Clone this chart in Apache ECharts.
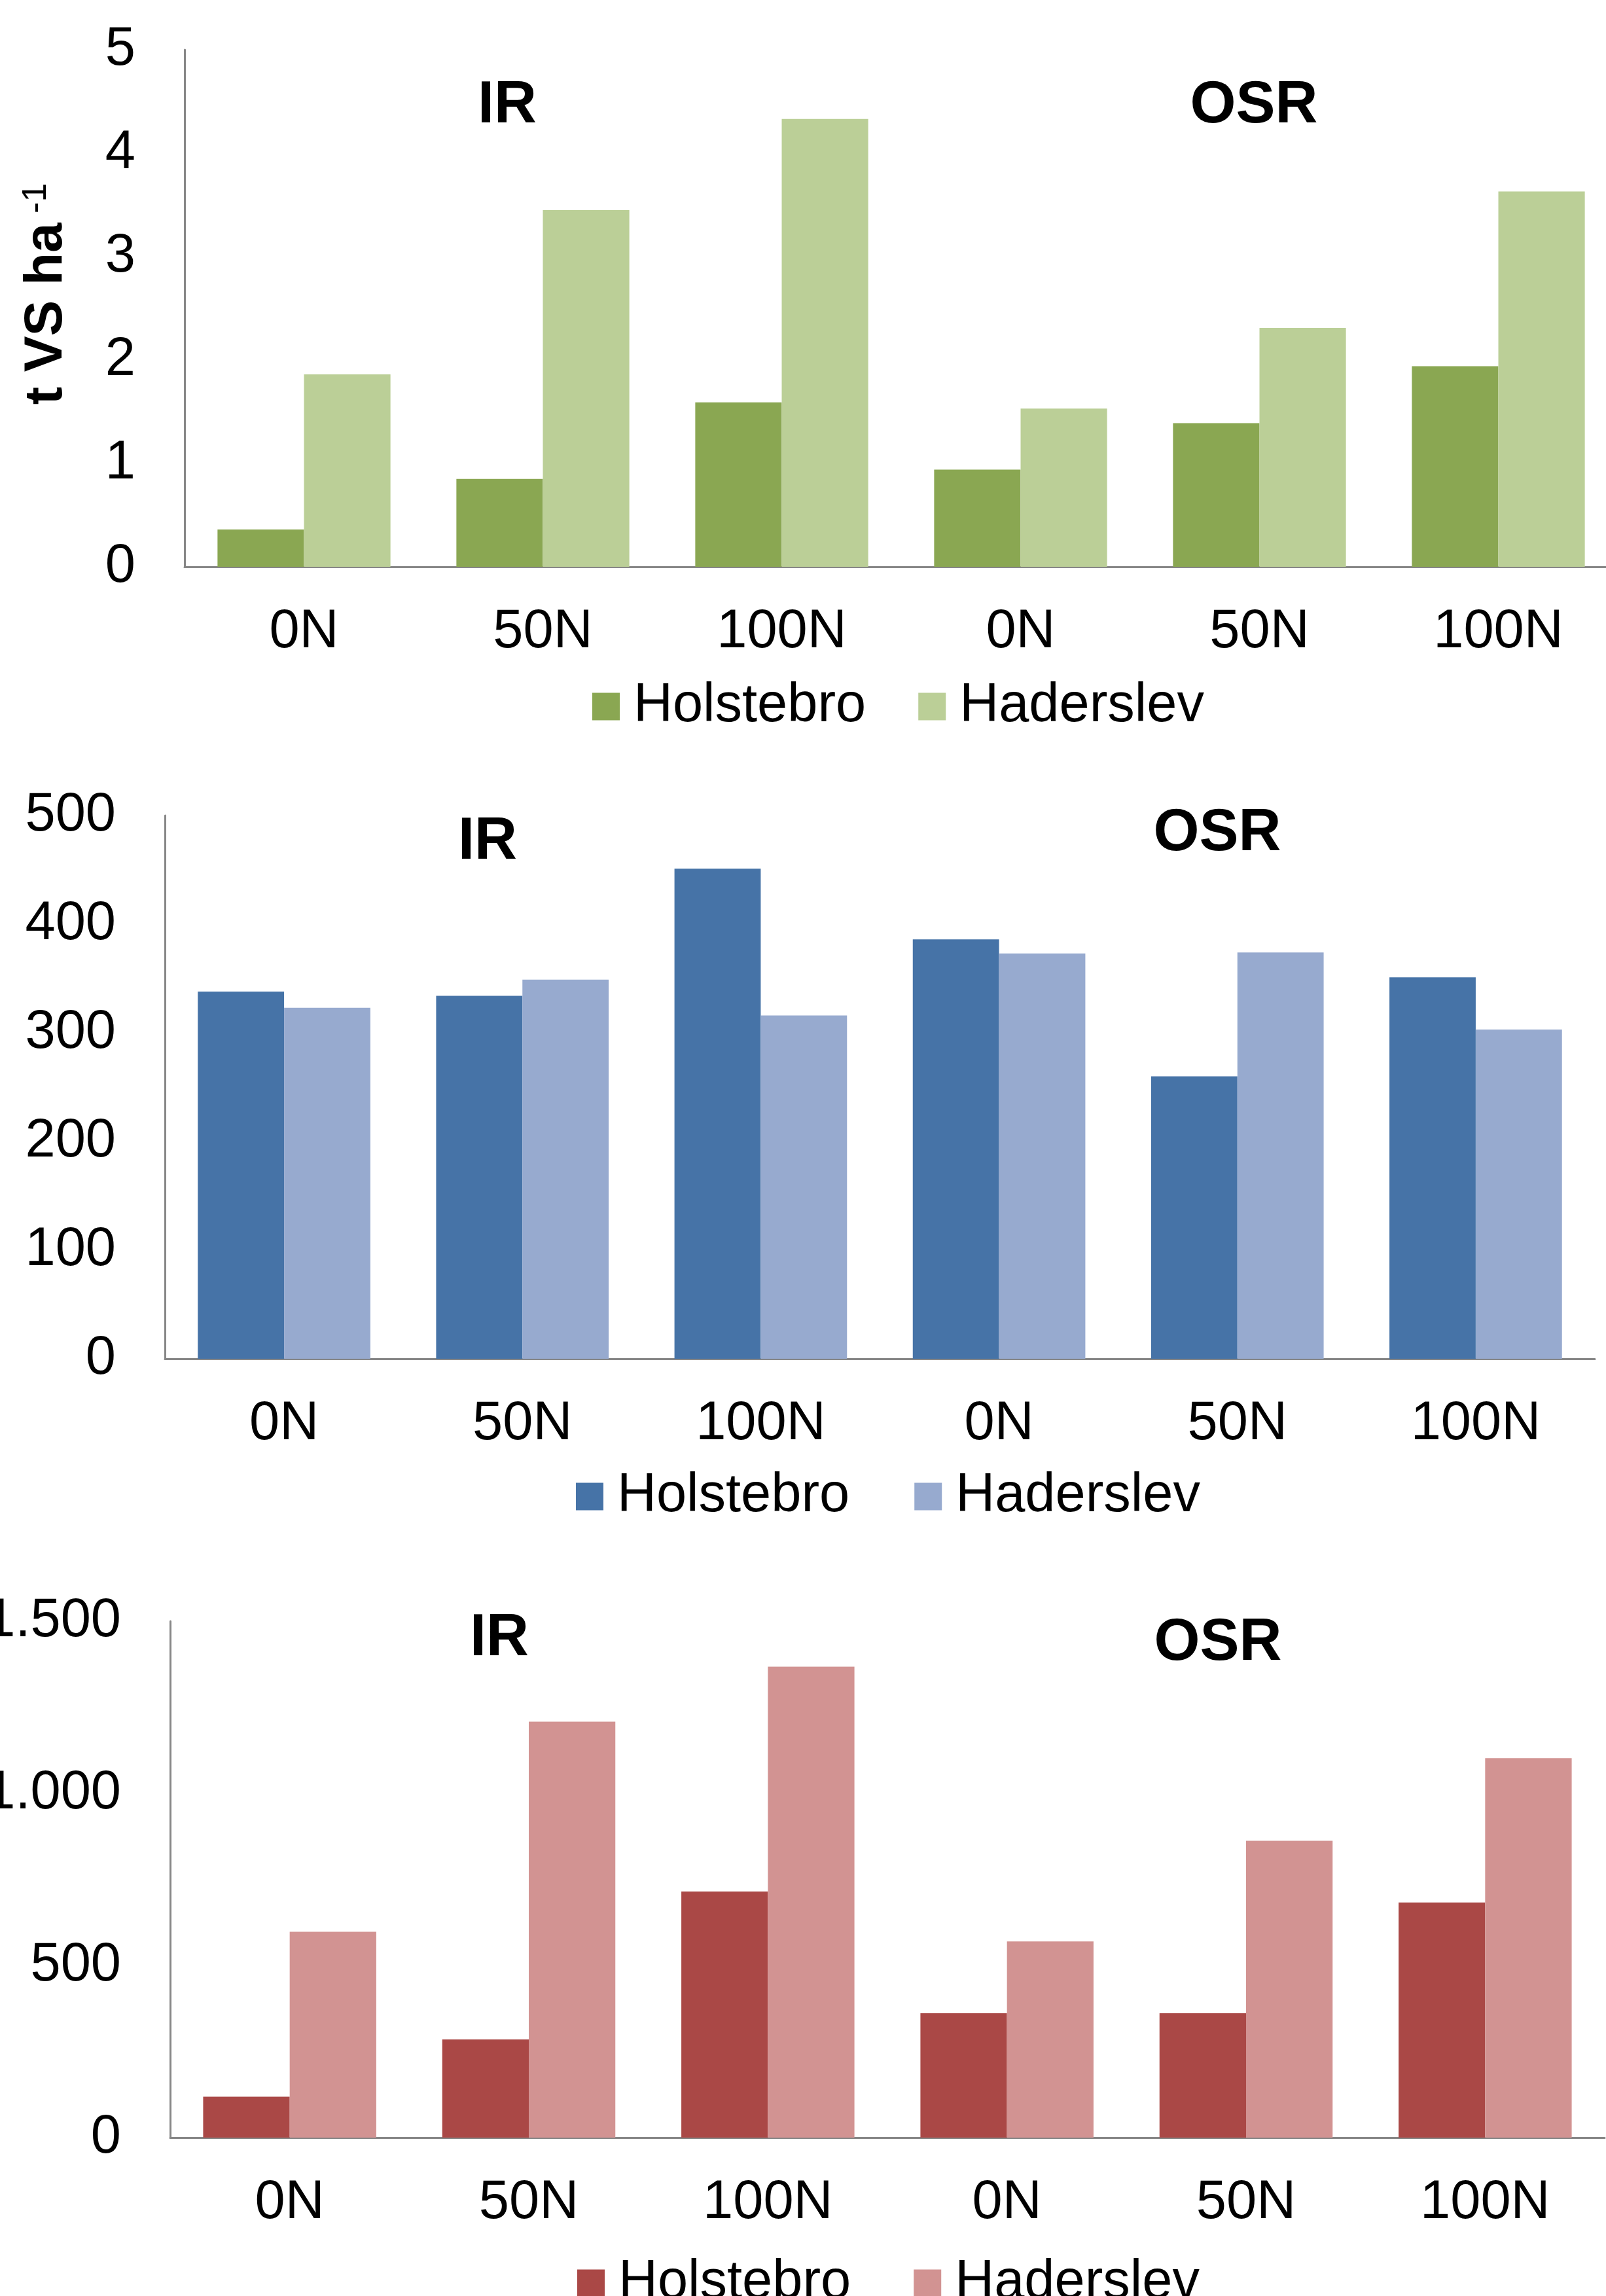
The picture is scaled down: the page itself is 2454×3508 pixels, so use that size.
<!DOCTYPE html>
<html><head><meta charset="utf-8">
<script src="https://cdn.jsdelivr.net/npm/echarts@6/dist/echarts.min.js"></script>
<style>html,body{margin:0;padding:0;background:#fff}#c{width:2454px;height:3508px}</style>
</head><body><div id="c"></div>
<script>
// ---- data ----
const categories = ['0N','50N','100N','0N','50N','100N'];
const seriesNames = ['Holstebro','Haderslev'];
const groupLabels = ['IR','OSR'];
const yAxisTitle = 't VS ha';
const yAxisTitleSup = '-1';

const greenHolstebro = [0.36, 0.85, 1.59, 0.94, 1.39, 1.94];
const greenHaderslev = [1.86, 3.45, 4.33, 1.53, 2.31, 3.63];
const blueHolstebro  = [338, 334, 451, 386, 260, 351];
const blueHaderslev  = [323, 349, 316, 373, 374, 303];
const redHolstebro   = [119, 285, 715, 361, 361, 683];
const redHaderslev   = [598, 1208, 1368, 570, 862, 1102];

const yTicks1 = [0, 1, 2, 3, 4, 5];
const yTicks2 = [0, 100, 200, 300, 400, 500];
const yTicks3 = [0, 500, 1000, 1500];

// ---- styling ----
const FONT = 'Liberation Sans, Arial, sans-serif';
const FS = 83;
const AX = '#878787';
const colors = [
  ['#8AA752', '#BBCF97'],
  ['#4673A7', '#97AACF'],
  ['#AA4846', '#D29392']
];
const grids = [
  {left: 282, top: 76, width: 2190, height: 790},
  {left: 252, top: 1246, width: 2185, height: 830},
  {left: 260, top: 2477, width: 2192, height: 789}
];
const legendPos = [
  {left: 900, top: 1033, gap: 80},
  {left: 875, top: 2240, gap: 99},
  {left: 877, top: 3442, gap: 96}
];
const labelPos = [
  [[775, 162], [1916, 162]],
  [[745, 1287], [1860, 1274]],
  [[763, 2504], [1861, 2511]]
];
const tickSets = [yTicks1, yTicks2, yTicks3];
const dataSets = [
  [greenHolstebro, greenHaderslev],
  [blueHolstebro, blueHaderslev],
  [redHolstebro, redHaderslev]
];
const fmtThousands = v => String(v).replace(/\B(?=(\d{3})+(?!\d))/g, '.');

const option = {
  animation: false,
  backgroundColor: '#fff',
  textStyle: {fontFamily: FONT},
  grid: grids.map(g => Object.assign({containLabel: false, outerBoundsMode: 'none'}, g)),
  xAxis: grids.map((g, i) => ({
    type: 'category', gridIndex: i, data: categories,
    axisLine: {show: true, lineStyle: {color: AX, width: 3}},
    axisTick: {show: false},
    axisLabel: {fontSize: FS, color: '#000', margin: 59, fontFamily: FONT, interval: 0},
    splitLine: {show: false}
  })),
  yAxis: grids.map((g, i) => {
    const t = tickSets[i];
    const ax = {
      type: 'value', gridIndex: i,
      min: t[0], max: t[t.length - 1], interval: t[1] - t[0],
      axisLine: {show: true, lineStyle: {color: AX, width: 3}},
      axisTick: {show: false},
      splitLine: {show: false},
      axisLabel: {fontSize: FS, color: '#000', margin: 75, fontFamily: FONT,
        formatter: i === 2 ? fmtThousands : undefined}
    };
    if (i === 0) {
      ax.name = '{a|' + yAxisTitle + '}{b| ' + yAxisTitleSup + '}';
      ax.nameLocation = 'middle';
      ax.nameRotate = 90;
      ax.nameGap = 170;
      ax.nameTextStyle = {
        padding: [0, 0, 0, 44],
        rich: {
          a: {fontSize: 82, fontWeight: 'bold', color: '#000', fontFamily: FONT},
          b: {fontSize: 52, color: '#000', fontFamily: FONT, verticalAlign: 'top'}
        }
      };
    }
    return ax;
  }),
  legend: legendPos.map((p, i) => ({
    left: p.left, top: p.top, orient: 'horizontal',
    itemWidth: 42, itemHeight: 42, itemGap: p.gap,
    icon: 'rect',
    textStyle: {fontSize: FS, color: '#000', fontFamily: FONT, padding: [0, 0, 0, 16]},
    data: seriesNames.map((n, k) => ({name: n, itemStyle: {color: colors[i][k]}})),
    selectedMode: false
  })),
  series: [],
  graphic: []
};

dataSets.forEach((pair, i) => {
  pair.forEach((vals, k) => {
    option.series.push({
      type: 'bar', name: seriesNames[k],
      xAxisIndex: i, yAxisIndex: i,
      data: vals,
      barGap: '0%', barCategoryGap: '27.6%',
      itemStyle: {color: colors[i][k]}
    });
  });
  labelPos[i].forEach((pos, k) => {
    option.graphic.push({
      type: 'text', x: pos[0], y: pos[1],
      style: {text: groupLabels[k], font: 'bold 90px ' + FONT, fill: '#000',
        textAlign: 'center', textVerticalAlign: 'middle', align: 'center', verticalAlign: 'middle'}
    });
  });
});

const chart = echarts.init(document.getElementById('c'), null, {renderer: 'canvas'});
chart.setOption(option);
</script>
</body></html>
